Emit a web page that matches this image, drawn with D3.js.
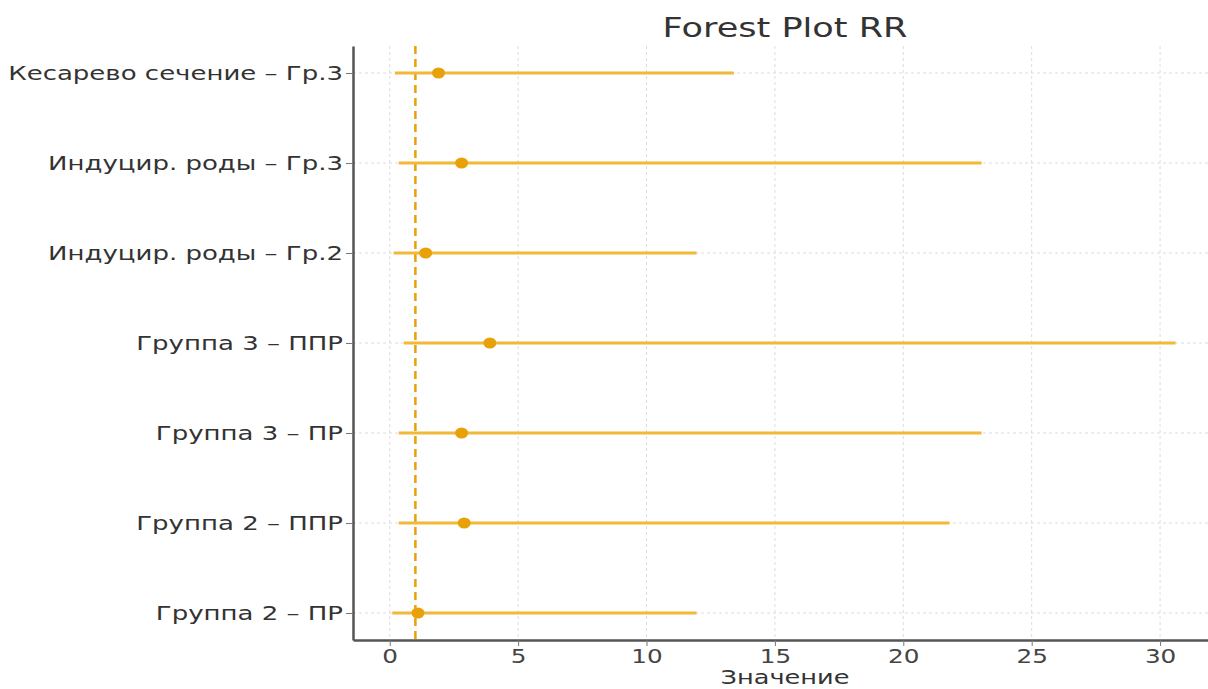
<!DOCTYPE html>
<html>
<head>
<meta charset="utf-8">
<script src="https://cdn.jsdelivr.net/npm/d3@7"></script>
<style>
  body { margin: 0; background: #fff; }
  svg text { font-family: "DejaVu Sans", sans-serif; }
</style>
</head>
<body>
<svg id="chart" width="1208" height="689"></svg>
<script>
// rows from top to bottom
var labels = [
  "Кесарево сечение – Гр.3",
  "Индуцир. роды – Гр.3",
  "Индуцир. роды – Гр.2",
  "Группа 3 – ППР",
  "Группа 3 – ПР",
  "Группа 2 – ППР",
  "Группа 2 – ПР"
];
var rr    = [1.9, 2.8, 1.4, 3.9, 2.8, 2.9, 1.1];
var lower = [0.2, 0.35, 0.15, 0.55, 0.35, 0.35, 0.1];
var upper = [13.4, 23.05, 11.95, 30.6, 23.05, 21.8, 11.95];
var xTicks = [0, 5, 10, 15, 20, 25, 30];
var refValue = 1;

var svg = d3.select("#chart");
var plotLeft = 353, plotRight = 1214, plotTop = 46, plotBottom = 640;
var stretch = 1.3; // the picture is wider than tall, text looks stretched

var x = d3.scaleLinear().domain([-1.43, 32.1]).range([plotLeft, plotRight]);
var y = d3.scaleLinear().domain([-0.3, 6.3]).range([plotTop, plotBottom]);

var lineColor = "#f2b838", dotColor = "#e9a10a", gridColor = "#dcdcdc";

// grid
svg.append("g").selectAll("line").data(xTicks).enter().append("line")
  .attr("x1", d => x(d)).attr("x2", d => x(d))
  .attr("y1", plotTop).attr("y2", plotBottom)
  .attr("stroke", gridColor).attr("stroke-width", 1).attr("stroke-dasharray", "3,3");
svg.append("g").selectAll("line").data(labels).enter().append("line")
  .attr("x1", plotLeft).attr("x2", plotRight)
  .attr("y1", (d, i) => y(i)).attr("y2", (d, i) => y(i))
  .attr("stroke", gridColor).attr("stroke-width", 1).attr("stroke-dasharray", "3,3");

// reference line
svg.append("line")
  .attr("x1", x(refValue)).attr("x2", x(refValue))
  .attr("y1", plotTop).attr("y2", plotBottom)
  .attr("stroke", dotColor).attr("stroke-width", 2.5).attr("stroke-dasharray", "8,5");

// CI lines + points
var rows = svg.append("g").selectAll("g").data(labels).enter().append("g");
rows.append("line")
  .attr("x1", (d, i) => x(lower[i])).attr("x2", (d, i) => x(upper[i]))
  .attr("y1", (d, i) => y(i)).attr("y2", (d, i) => y(i))
  .attr("stroke", lineColor).attr("stroke-width", 3);
rows.append("ellipse")
  .attr("cx", (d, i) => x(rr[i])).attr("cy", (d, i) => y(i))
  .attr("rx", 6.5).attr("ry", 5.5).attr("fill", dotColor);

// axes
var xAxis = svg.append("g").attr("transform", "translate(0," + plotBottom + ")")
  .call(d3.axisBottom(x).tickValues(xTicks).tickSize(6).tickPadding(4).tickSizeOuter(0));
xAxis.select(".domain").attr("stroke", "#555").attr("stroke-width", 2.5);
xAxis.selectAll(".tick line").attr("stroke", "#777");
xAxis.selectAll("text").attr("font-size", 19).attr("fill", "#444")
  .attr("transform", "scale(" + stretch + ",1)");

var yAxis = svg.append("g").attr("transform", "translate(" + plotLeft + ",0)")
  .call(d3.axisLeft(y).tickValues(d3.range(labels.length)).tickFormat(i => labels[i])
    .tickSize(7).tickPadding(4).tickSizeOuter(0));
yAxis.select(".domain").attr("stroke", "#555").attr("stroke-width", 2.5);
yAxis.selectAll(".tick line").attr("stroke", "#777");
yAxis.selectAll("text").attr("font-size", 20).attr("fill", "#333")
  .attr("x", -10 / stretch)
  .attr("transform", "scale(" + stretch + ",1)");

// title and axis label
svg.append("text").attr("transform", "translate(785,37) scale(" + stretch + ",1)")
  .attr("text-anchor", "middle")
  .attr("font-size", 27).attr("fill", "#333").text("Forest Plot RR");
svg.append("text").attr("transform", "translate(785,684) scale(" + (stretch + 0.05) + ",1)")
  .attr("text-anchor", "middle")
  .attr("font-size", 19).attr("fill", "#333").text("Значение");
</script>
</body>
</html>
